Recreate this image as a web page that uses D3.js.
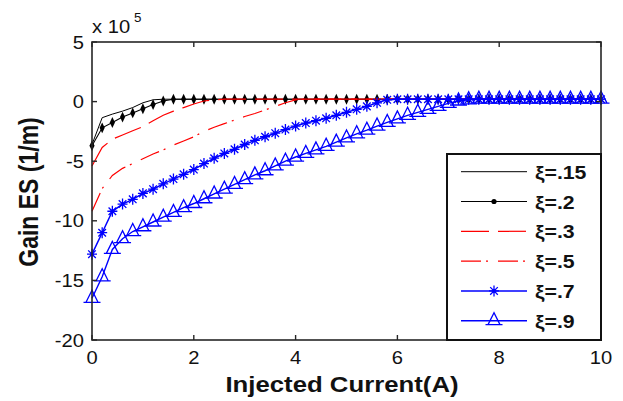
<!DOCTYPE html>
<html>
<head>
<meta charset="utf-8">
<script src="https://cdn.jsdelivr.net/npm/d3@7"></script>
<style>
  body { margin: 0; background: #fff; }
  text { font-family: "Liberation Sans", Arial, sans-serif; fill: #111; }
</style>
</head>
<body>
<svg id="chart"></svg>
<script>
// injected current (A)
const current = [0,0.2,0.4,0.6,0.8,1,1.2,1.4,1.6,1.8,
  2,2.2,2.4,2.6,2.8,3,3.2,3.4,3.6,3.8,
  4,4.2,4.4,4.6,4.8,5,5.2,5.4,5.6,5.8,
  6,6.2,6.4,6.6,6.8,7,7.2,7.4,7.6,7.8,
  8,8.2,8.4,8.6,8.8,9,9.2,9.4,9.6,9.8,10];

// gain ES, in units of 1e5 1/m
const gain015 = [-3.6,-1.35,-1.05,-0.8,-0.5,-0.1,0.15,0.2,0.2,0.2,
  0.2,0.2,0.2,0.2,0.2,0.2,0.2,0.2,0.2,0.2,
  0.2,0.2,0.2,0.2,0.2,0.2,0.2,0.2,0.2,0.2,
  0.2,0.2,0.2,0.2,0.2,0.2,0.2,0.2,0.2,0.2,
  0.2,0.2,0.2,0.2,0.2,0.2,0.2,0.2,0.2,0.2,0.2];
const gain02 = [-3.7,-2.2,-1.75,-1.3,-0.95,-0.6,-0.25,0.05,0.2,0.2,
  0.2,0.2,0.2,0.2,0.2,0.2,0.2,0.2,0.2,0.2,
  0.2,0.2,0.2,0.2,0.2,0.2,0.2,0.2,0.2,0.2,
  0.2,0.2,0.2,0.2,0.2,0.2,0.2,0.2,0.2,0.2,
  0.2,0.2,0.2,0.2,0.2,0.2,0.2,0.2,0.2,0.2,0.2];
const gain03 = [-5.4,-3.85,-3.15,-2.8,-2.45,-2.1,-1.6,-1.15,-0.8,-0.5,
  -0.2,0.05,0.15,0.2,0.2,0.2,0.2,0.2,0.2,0.2,
  0.2,0.2,0.2,0.2,0.2,0.2,0.2,0.2,0.2,0.2,
  0.2,0.2,0.2,0.2,0.2,0.2,0.2,0.2,0.2,0.2,
  0.2,0.2,0.2,0.2,0.2,0.2,0.2,0.2,0.2,0.2,0.2];
const gain05 = [-9.2,-7.3,-6.2,-5.6,-5.2,-4.8,-4.4,-4.05,-3.65,-3.3,
  -2.95,-2.5,-2.15,-1.85,-1.55,-1.25,-1.0,-0.7,-0.4,-0.1,
  0.15,0.2,0.2,0.2,0.2,0.2,0.2,0.2,0.2,0.2,
  0.2,0.2,0.2,0.2,0.2,0.2,0.2,0.2,0.2,0.2,
  0.2,0.2,0.2,0.2,0.2,0.2,0.2,0.2,0.2,0.2,0.2];
const gain07 = [-12.8,-11.0,-9.2,-8.6,-8.2,-7.7,-7.35,-6.9,-6.5,-6.1,
  -5.7,-5.2,-4.75,-4.35,-4.0,-3.6,-3.25,-2.95,-2.65,-2.35,
  -2.05,-1.8,-1.6,-1.4,-1.15,-0.9,-0.65,-0.4,-0.1,0.15,
  0.2,0.2,0.2,0.2,0.2,0.2,0.2,0.2,0.2,0.2,
  0.2,0.2,0.2,0.2,0.2,0.2,0.2,0.2,0.2,0.2,0.2];
const gain09 = [-16.5,-14.7,-12.4,-11.5,-10.9,-10.5,-10.1,-9.7,-9.3,-8.9,
  -8.55,-8.15,-7.75,-7.35,-6.95,-6.55,-6.15,-5.8,-5.4,-5.0,
  -4.65,-4.35,-4.05,-3.75,-3.4,-3.05,-2.7,-2.4,-2.05,-1.75,
  -1.45,-1.15,-0.9,-0.65,-0.4,-0.15,0.05,0.15,0.2,0.2,
  0.2,0.2,0.2,0.2,0.2,0.2,0.2,0.2,0.2,0.2,0.2];

const seriesLabels = ["\u03be=.15", "\u03be=.2", "\u03be=.3", "\u03be=.5", "\u03be=.7", "\u03be=.9"];
const xTicks = [0, 2, 4, 6, 8, 10];
const yTicks = [5, 0, -5, -10, -15, -20];

let w = 623, h = 401;
let svg = d3.select("#chart").attr("width", w).attr("height", h);
const SX = 1.12; // the reference text is a bit wide

let x = d3.scaleLinear().domain([0, 10]).range([92, 601]);
let y = d3.scaleLinear().domain([-20, 5]).range([340, 42]);

function wideText(g, px, py, str) {
  return g.append("text")
    .attr("transform", `translate(${px},${py}) scale(${SX},1)`)
    .text(str);
}

let series = [
  { vals: gain015, color: "#000", width: 1, dash: null, marker: null },
  { vals: gain02, color: "#000", width: 1.1, dash: null, marker: "diamond" },
  { vals: gain03, color: "#ff0000", width: 1.2, dash: "28,9", marker: null },
  { vals: gain05, color: "#ff0000", width: 1.2, dash: "20,5,2,10", marker: null },
  { vals: gain07, color: "#0000ff", width: 1.5, dash: null, marker: "star" },
  { vals: gain09, color: "#0000ff", width: 1.4, dash: null, marker: "triangle" }
];

function drawMarker(g, kind, color) {
  if (kind === "diamond") {
    g.append("path").attr("d", d3.symbol(d3.symbolDiamond, 28)())
      .attr("fill", color).attr("transform", "scale(0.9,1.1)");
  } else if (kind === "star") {
    g.append("path")
      .attr("d", "M0,-5.5L0,5.5M-5,0L5,0M-3.8,-3.8L3.8,3.8M-3.8,3.8L3.8,-3.8")
      .attr("stroke", color).attr("stroke-width", 1.3).attr("fill", "none");
    g.append("circle").attr("r", 1.8).attr("fill", color);
  } else if (kind === "triangle") {
    g.append("path")
      .attr("d", "M0,-8L-6,4L6,4Z M-8.5,4L8.5,4")
      .attr("stroke", color).attr("stroke-width", 1.3).attr("fill", "none");
  }
}

let line = d3.line().x((d, i) => x(current[i])).y(d => y(d));
let plot = svg.append("g");

series.forEach(s => {
  plot.append("path")
    .attr("d", line(s.vals))
    .attr("fill", "none")
    .attr("stroke", s.color)
    .attr("stroke-width", s.width)
    .attr("stroke-dasharray", s.dash);
  if (s.marker) {
    s.vals.forEach((v, i) => {
      let g = plot.append("g").attr("transform", `translate(${x(current[i])},${y(v)})`);
      drawMarker(g, s.marker, s.color);
    });
  }
});

// axes frame with inward ticks on all sides
let axisColor = "#262626";
let frame = svg.append("g");
frame.append("rect")
  .attr("x", x(0)).attr("y", y(5))
  .attr("width", x(10) - x(0)).attr("height", y(-20) - y(5))
  .attr("fill", "none").attr("stroke", axisColor).attr("stroke-width", 1.6);

xTicks.forEach(t => {
  frame.append("line").attr("x1", x(t)).attr("x2", x(t)).attr("y1", y(-20)).attr("y2", y(-20) - 5)
    .attr("stroke", axisColor).attr("stroke-width", 1.4);
  frame.append("line").attr("x1", x(t)).attr("x2", x(t)).attr("y1", y(5)).attr("y2", y(5) + 5)
    .attr("stroke", axisColor).attr("stroke-width", 1.4);
  wideText(svg, x(t), 364, t).attr("text-anchor", "middle").style("font-size", "18px");
});
yTicks.forEach(t => {
  frame.append("line").attr("x1", x(0)).attr("x2", x(0) + 5).attr("y1", y(t)).attr("y2", y(t))
    .attr("stroke", axisColor).attr("stroke-width", 1.4);
  frame.append("line").attr("x1", x(10)).attr("x2", x(10) - 5).attr("y1", y(t)).attr("y2", y(t))
    .attr("stroke", axisColor).attr("stroke-width", 1.4);
  wideText(svg, 84, y(t) + 6.5, t).attr("text-anchor", "end").style("font-size", "18px");
});

// exponent label
wideText(svg, 92, 33, "x 10").style("font-size", "18px");
wideText(svg, 134, 22, "5").style("font-size", "12px");

// axis titles
wideText(svg, 342, 392, "Injected Current(A)")
  .attr("text-anchor", "middle").style("font-size", "23px").style("font-weight", "bold");
svg.append("text")
  .attr("transform", "translate(38,192) scale(1.2,1) rotate(-90)")
  .attr("text-anchor", "middle")
  .style("font-size", "23px").style("font-weight", "bold")
  .text("Gain ES (1/m)");

// legend
let lg = svg.append("g");
lg.append("rect").attr("x", 447).attr("y", 154).attr("width", 154).attr("height", 186)
  .attr("fill", "#fff").attr("stroke", "#111").attr("stroke-width", 2);
series.forEach((s, i) => {
  let ly = 171.7 + i * 29.8;
  lg.append("line").attr("x1", 461).attr("x2", 527).attr("y1", ly).attr("y2", ly)
    .attr("stroke", s.color).attr("stroke-width", s.width).attr("stroke-dasharray", s.dash);
  if (s.marker) {
    let g = lg.append("g").attr("transform", `translate(494,${ly})`);
    if (s.marker === "diamond") g.append("circle").attr("r", 2.6).attr("fill", s.color);
    else drawMarker(g, s.marker, s.color);
  }
  wideText(lg, 535, ly + 7, seriesLabels[i])
    .style("font-size", "19px").style("font-weight", "bold");
});
</script>
</body>
</html>
